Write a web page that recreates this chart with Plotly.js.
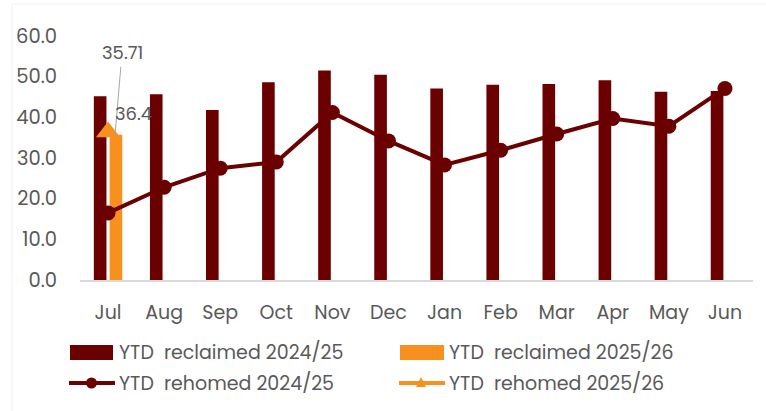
<!DOCTYPE html>
<html>
<head>
<meta charset="utf-8">
<script src="https://cdn.plot.ly/plotly-3.0.1.min.js"></script>
<style>html,body{margin:0;padding:0;background:#fff;}#chart{width:766px;height:411px;}</style>
</head>
<body>
<div id="chart"></div>
<script>
const months = ['Jul','Aug','Sep','Oct','Nov','Dec','Jan','Feb','Mar','Apr','May','Jun'];
const reclaimed2425 = [45.2, 45.7, 41.8, 48.6, 51.5, 50.5, 47.1, 48.0, 48.2, 49.1, 46.3, 46.5];
const reclaimed2526 = [35.71];
const rehomed2425 = [16.5, 22.8, 27.5, 29.0, 41.2, 34.2, 28.3, 31.9, 35.9, 39.7, 37.8, 47.1];
const rehomed2526 = [36.4];
const months2526 = ['Jul'];
const yTicks = [0, 10, 20, 30, 40, 50, 60];
const names = ['YTD\u00A0 reclaimed 2024/25', 'YTD\u00A0 reclaimed 2025/26', 'YTD\u00A0 rehomed 2024/25', 'YTD\u00A0 rehomed 2025/26'];

const DARK = '#6B0000', ORANGE = '#F7901E', TXT = '#595959';
const FONT = 'Poppins, "Open Sans", sans-serif';
const W = 766, H = 411, L = 80, R = 13, T = 36, B = 131;
const pw = W - L - R, ph = H - T - B;
const px = x => (x - L) / pw;
const py = y => (H - B - y) / ph;

const traces = [
  {type:'bar', x:months, y:reclaimed2425, name:names[0], marker:{color:DARK}, hoverinfo:'skip'},
  {type:'bar', x:months2526, y:reclaimed2526, name:names[1], marker:{color:ORANGE}, hoverinfo:'skip'},
  {type:'scatter', mode:'lines+markers', x:months, y:rehomed2425, name:names[2],
   line:{color:DARK, width:4}, marker:{color:DARK, size:15, symbol:'circle'}},
  {type:'scatter', mode:'markers', x:months2526, y:rehomed2526, name:names[3],
   line:{color:ORANGE, width:4}, marker:{color:ORANGE, size:21, symbol:'triangle-up'}}
];

const shapes = [
  {type:'line', xref:'paper', yref:'paper', x0:px(12), x1:px(12), y0:py(4), y1:py(411), line:{color:'#f2f2f2', width:1}},
  {type:'line', xref:'paper', yref:'paper', x0:px(12), x1:px(766), y0:py(4), y1:py(4), line:{color:'#f2f2f2', width:1}},
  {type:'rect', xref:'paper', yref:'paper', x0:px(70), x1:px(113), y0:py(345), y1:py(360), fillcolor:DARK, line:{width:0}},
  {type:'rect', xref:'paper', yref:'paper', x0:px(400), x1:px(444), y0:py(345), y1:py(360), fillcolor:ORANGE, line:{width:0}},
  {type:'line', xref:'paper', yref:'paper', x0:px(69), x1:px(115), y0:py(383), y1:py(383), line:{color:DARK, width:4}},
  {type:'circle', xref:'paper', yref:'paper', x0:px(86), x1:px(97), y0:py(377.5), y1:py(388.5), fillcolor:DARK, line:{width:0}},
  {type:'line', xref:'paper', yref:'paper', x0:px(399), x1:px(445), y0:py(383), y1:py(383), line:{color:ORANGE, width:4}},
  {type:'path', xref:'paper', yref:'paper',
   path:'M '+px(416)+' '+py(387)+' L '+px(426)+' '+py(387)+' L '+px(421)+' '+py(377)+' Z',
   fillcolor:ORANGE, line:{width:0}}
];

const annotations = [
  {x:months2526[0], y:reclaimed2526[0], xref:'x', yref:'y', text:String(reclaimed2526[0]),
   xshift:7, showarrow:true, arrowhead:0, arrowwidth:1, arrowcolor:'#a6a6a6', ax:7, ay:-82, standoff:0,
   font:{family:FONT, size:18, color:TXT}},
  {x:months2526[0], y:rehomed2526[0], xref:'x', yref:'y', text:String(rehomed2526[0]),
   xshift:25, yshift:18, showarrow:false, font:{family:FONT, size:18, color:TXT}},
  {xref:'paper', yref:'paper', x:px(117), y:py(352), xanchor:'left', yanchor:'middle', text:names[0], showarrow:false, font:{family:FONT, size:19, color:TXT}},
  {xref:'paper', yref:'paper', x:px(447), y:py(352), xanchor:'left', yanchor:'middle', text:names[1], showarrow:false, font:{family:FONT, size:19, color:TXT}},
  {xref:'paper', yref:'paper', x:px(117), y:py(383), xanchor:'left', yanchor:'middle', text:names[2], showarrow:false, font:{family:FONT, size:19, color:TXT}},
  {xref:'paper', yref:'paper', x:px(447), y:py(383), xanchor:'left', yanchor:'middle', text:names[3], showarrow:false, font:{family:FONT, size:19, color:TXT}}
];

const layout = {
  width:W, height:H,
  margin:{l:L, r:R, t:T, b:B},
  paper_bgcolor:'#fff', plot_bgcolor:'#fff',
  barmode:'group', bargap:0.437, bargroupgap:0.2,
  showlegend:false,
  font:{family:FONT, size:19, color:TXT},
  xaxis:{type:'category', categoryorder:'array', categoryarray:months, automargin:false,
    range:[-0.5, months.length - 0.5], autorange:false,
    showline:true, linecolor:'#d9d9d9', linewidth:1.5, ticks:'', showgrid:false, zeroline:false,
    tickfont:{family:FONT, size:19, color:TXT}, ticklabelstandoff:15, fixedrange:true},
  yaxis:{range:[0,60], autorange:false, tickvals:yTicks, ticktext:yTicks.map(v=>v.toFixed(1)), automargin:false,
    showgrid:false, zeroline:false, showline:false, ticks:'',
    tickfont:{family:FONT, size:19.5, color:TXT}, ticklabelstandoff:22, fixedrange:true},
  shapes:shapes, annotations:annotations
};

Plotly.newPlot('chart', traces, layout, {displayModeBar:false, staticPlot:true});
</script>
</body>
</html>
